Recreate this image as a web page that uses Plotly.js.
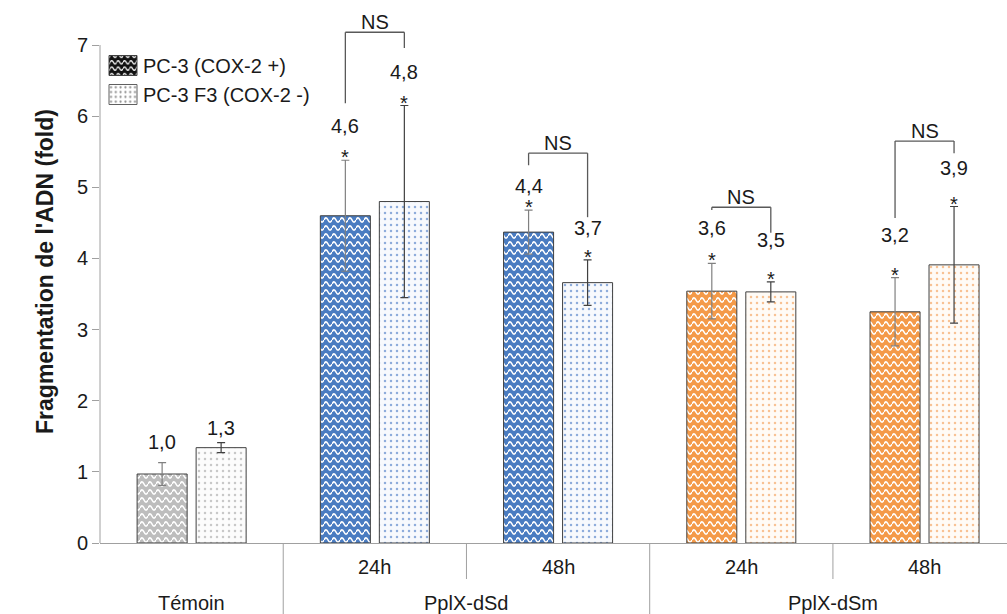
<!DOCTYPE html>
<html><head><meta charset="utf-8">
<script src="https://cdn.plot.ly/plotly-3.0.1.min.js"></script>
<style>html,body{margin:0;padding:0;background:#fff;} #chart{width:1007px;height:614px;}</style>
</head><body><div id="chart"></div>
<script>
// ---- data ----
const categories = ["Témoin", "PplX-dSd 24h", "PplX-dSd 48h", "PplX-dSm 24h", "PplX-dSm 48h"];
const subLabels = ["", "24h", "48h", "24h", "48h"];
const groupLabels = ["Témoin", "PplX-dSd", "PplX-dSm"];
const groupFirst = [0, 1, 3];
const groupLast = [0, 2, 4];
const seriesNames = ["PC-3 (COX-2 +)", "PC-3 F3 (COX-2 -)"];
const pc3Values = [0.97, 4.60, 4.37, 3.54, 3.25];
const pc3Errors = [0.16, 0.78, 0.31, 0.39, 0.48];
const f3Values = [1.34, 4.80, 3.66, 3.53, 3.91];
const f3Errors = [0.07, 1.35, 0.32, 0.14, 0.82];
const pc3Labels = ["1,0", "4,6", "4,4", "3,6", "3,2"];
const f3Labels = ["1,3", "4,8", "3,7", "3,5", "3,9"];
const pc3LabelY = [1.42, 5.86, 5.02, 4.43, 4.33];
const f3LabelY = [1.62, 6.62, 4.43, 4.26, 5.27];
const significant = [false, true, true, true, true];
const bracketTop = [null, 7.18, 5.48, 4.72, 5.65];
const bracketLeftEnd = [null, 6.18, 5.31, 4.68, 4.57];
const bracketRightEnd = [null, 6.96, 4.58, 4.36, 5.48];
const bracketText = "NS";
const yTicks = [0, 1, 2, 3, 4, 5, 6, 7];

// ---- styles ----
const pc3Colors = ["#bdbdbd", "#4a7cc1", "#4a7cc1", "#f49a49", "#f49a49"];
const f3Bg = ["#fcfcfc", "#f7f9fd", "#f7f9fd", "#fffbf6", "#fffbf6"];
const f3Dots = ["#c8c8c8", "#8eacdb", "#8eacdb", "#f8c294", "#f8c294"];
const legendBg = ["#111111", "#ffffff"];
const legendFg = ["#ffffff", "#8a8a8a"];
const FONT = "Liberation Sans, Arial, sans-serif";
const TXT = "#1a1a1a";
const AX = "#a0a0a0";
const barW = 0.273, off1 = -0.2975, off2 = 0.0245;
const xIdx = categories.map((c, i) => i);
const c1 = xIdx.map(i => i + off1 + barW / 2);
const c2 = xIdx.map(i => i + off2 + barW / 2);
const xRange = [-0.5, 4.45];
const span = xRange[1] - xRange[0];
const px = v => (v - xRange[0]) / span;
const plotH = 543;

const traces = [
  {type: "bar", x: xIdx, y: pc3Values, width: barW, offset: off1, showlegend: false, hoverinfo: "skip",
   marker: {color: pc3Colors, line: {color: "#404040", width: 1},
            pattern: {shape: "-", fgcolor: "#ffffff", bgcolor: pc3Colors, fgopacity: 1, size: 8, solidity: 0.2, fillmode: "overlay"}},
   error_y: {type: "data", array: pc3Errors, visible: true, color: "#808080", thickness: 1.2, width: 4}},
  {type: "bar", x: xIdx, y: f3Values, width: barW, offset: off2, showlegend: false, hoverinfo: "skip",
   marker: {color: f3Bg, line: {color: "#404040", width: 1},
            pattern: {shape: ".", fgcolor: f3Dots, bgcolor: f3Bg, fgopacity: 1, size: 6, solidity: 0.14, fillmode: "overlay"}},
   error_y: {type: "data", array: f3Errors, visible: true, color: "#404040", thickness: 1.2, width: 4}},
  {type: "bar", x: [0], y: [null], name: seriesNames[0], showlegend: true,
   marker: {color: legendBg[0], line: {color: "#404040", width: 1},
            pattern: {shape: "-", fgcolor: legendFg[0], bgcolor: legendBg[0], fgopacity: 1, size: 8, solidity: 0.2, fillmode: "overlay"}}},
  {type: "bar", x: [0], y: [null], name: seriesNames[1], showlegend: true,
   marker: {color: legendBg[1], line: {color: "#606060", width: 1},
            pattern: {shape: ".", fgcolor: legendFg[1], bgcolor: legendBg[1], fgopacity: 1, size: 6, solidity: 0.16, fillmode: "overlay"}}}
];

const annotations = [];
const shapes = [];
const tf = {family: FONT, size: 20, color: TXT};
xIdx.forEach(i => {
  annotations.push({x: c1[i], y: pc3LabelY[i], xref: "x", yref: "y", text: pc3Labels[i], showarrow: false, font: tf, yanchor: "middle"});
  annotations.push({x: c2[i], y: f3LabelY[i], xref: "x", yref: "y", text: f3Labels[i], showarrow: false, font: tf, yanchor: "middle"});
  if (significant[i]) {
    annotations.push({x: c1[i], y: pc3Values[i] + pc3Errors[i], xref: "x", yref: "y", text: "*", showarrow: false, font: tf, yanchor: "bottom", yshift: -10});
    annotations.push({x: c2[i], y: f3Values[i] + f3Errors[i], xref: "x", yref: "y", text: "*", showarrow: false, font: tf, yanchor: "bottom", yshift: -10});
  }
  if (bracketTop[i] !== null) {
    const ln = {color: "#595959", width: 1.3};
    shapes.push({type: "line", xref: "x", yref: "y", x0: c1[i], x1: c1[i], y0: bracketLeftEnd[i], y1: bracketTop[i], line: ln});
    shapes.push({type: "line", xref: "x", yref: "y", x0: c1[i], x1: c2[i], y0: bracketTop[i], y1: bracketTop[i], line: ln});
    shapes.push({type: "line", xref: "x", yref: "y", x0: c2[i], x1: c2[i], y0: bracketTop[i], y1: bracketRightEnd[i], line: ln});
    annotations.push({x: (c1[i] + c2[i]) / 2, y: bracketTop[i], xref: "x", yref: "y", text: bracketText, showarrow: false, font: tf, yanchor: "bottom", yshift: -3});
  }
  annotations.push({x: i, y: -24 / plotH, xref: "x", yref: "paper", text: subLabels[i], showarrow: false, font: tf, yanchor: "middle"});
});
groupLabels.forEach((g, k) => {
  annotations.push({x: (groupFirst[k] + groupLast[k]) / 2, y: -60 / plotH, xref: "x", yref: "paper", text: g, showarrow: false, font: tf, yanchor: "middle"});
  if (k > 0) {
    const b = groupFirst[k] - 0.5;
    shapes.push({type: "line", xref: "paper", yref: "paper", x0: px(b), x1: px(b), y0: 0, y1: -71 / plotH, line: {color: AX, width: 1}});
  }
  for (let j = groupFirst[k]; j < groupLast[k]; j++) {
    const b = j + 0.5;
    shapes.push({type: "line", xref: "paper", yref: "paper", x0: px(b), x1: px(b), y0: 0, y1: -36 / plotH, line: {color: AX, width: 1}});
  }
});
// y axis line from 0 to top tick
shapes.push({type: "line", xref: "paper", yref: "y", x0: 0, x1: 0, y0: yTicks[0], y1: yTicks[yTicks.length - 1], line: {color: AX, width: 1}});

const layout = {
  width: 1007, height: 614,
  margin: {l: 100, r: 0, t: 0, b: 71, pad: 0},
  paper_bgcolor: "#ffffff", plot_bgcolor: "#ffffff",
  font: {family: FONT, size: 20, color: TXT},
  barmode: "overlay",
  showlegend: true,
  legend: {x: 3 / 907, xanchor: "left", y: 1 - 46 / plotH, yanchor: "top", bgcolor: "rgba(0,0,0,0)",
           font: {family: FONT, size: 20, color: TXT}, itemwidth: 30, tracegroupgap: 0},
  xaxis: {type: "linear", range: xRange, showticklabels: false, ticks: "", showgrid: false, zeroline: false,
          showline: true, linecolor: AX, linewidth: 1, fixedrange: true},
  yaxis: {range: [0, 7.633], tickvals: yTicks, ticktext: yTicks.map(String), ticks: "outside", ticklen: 7,
          tickcolor: AX, tickwidth: 1, showline: false, showgrid: false, zeroline: false, fixedrange: true,
          tickfont: {family: FONT, size: 20, color: TXT},
          title: {text: "Fragmentation de l'ADN (fold)", font: {family: FONT, size: 23, color: TXT, weight: "bold"}, standoff: 16}},
  shapes: shapes,
  annotations: annotations
};

const SVGNS = "http://www.w3.org/2000/svg";
function patternOf(el) {
  const f = (el.style && el.style.fill) || el.getAttribute("fill") || "";
  const m = f.match(/url\(["']?#([^"')]+)["']?\)/);
  return m ? document.getElementById(m[1]) : null;
}
function paintBg(p, bg) {
  const w = p.getAttribute("width"), h = p.getAttribute("height");
  let rect = p.querySelector("rect");
  if (!rect) { rect = document.createElementNS(SVGNS, "rect"); p.insertBefore(rect, p.firstChild); }
  rect.setAttribute("x", 0); rect.setAttribute("y", 0);
  rect.setAttribute("width", w); rect.setAttribute("height", h);
  rect.setAttribute("fill", bg); rect.style.fill = bg;
  rect.setAttribute("fill-opacity", 1); rect.style.fillOpacity = 1; rect.removeAttribute("opacity");
  return rect;
}
function makeWave(p, bg, fg) {
  if (!p) return;
  const rect = paintBg(p, bg);
  Array.from(p.children).forEach(c => { if (c !== rect) c.remove(); });
  const w = parseFloat(p.getAttribute("width")), h = parseFloat(p.getAttribute("height"));
  const m = h / 2, a = h * 0.26;
  const path = document.createElementNS(SVGNS, "path");
  path.setAttribute("d", `M0,${m} Q${w / 4},${m - 2 * a} ${w / 2},${m} T${w},${m}`);
  path.setAttribute("fill", "none");
  path.setAttribute("stroke", fg);
  path.setAttribute("stroke-width", "1.6");
  p.appendChild(path);
}
function makeDots(p, bg, fg) {
  if (!p) return;
  const rect = paintBg(p, bg);
  Array.from(p.children).forEach(c => {
    if (c === rect) return;
    c.setAttribute("fill", fg); c.style.fill = fg;
    c.setAttribute("fill-opacity", 1); c.style.fillOpacity = 1; c.removeAttribute("opacity"); c.style.opacity = 1;
  });
}
function fixPatterns(gd) {
  const groups = gd.querySelectorAll(".barlayer .trace");
  if (groups[0]) groups[0].querySelectorAll(".point path").forEach((el, i) => makeWave(patternOf(el), pc3Colors[i], "#ffffff"));
  if (groups[1]) groups[1].querySelectorAll(".point path").forEach((el, i) => makeDots(patternOf(el), f3Bg[i], f3Dots[i]));
  gd.querySelectorAll(".legend .legendpoints path").forEach((pt, k) => {
    pt.setAttribute("d", "M14,10H-14V-10H14Z");
    const p = patternOf(pt);
    if (k === 0) makeWave(p, legendBg[0], legendFg[0]);
    else makeDots(p, legendBg[1], legendFg[1]);
  });
}

Plotly.newPlot("chart", traces, layout, {displayModeBar: false, staticPlot: true}).then(gd => fixPatterns(gd));
</script>
</body></html>
